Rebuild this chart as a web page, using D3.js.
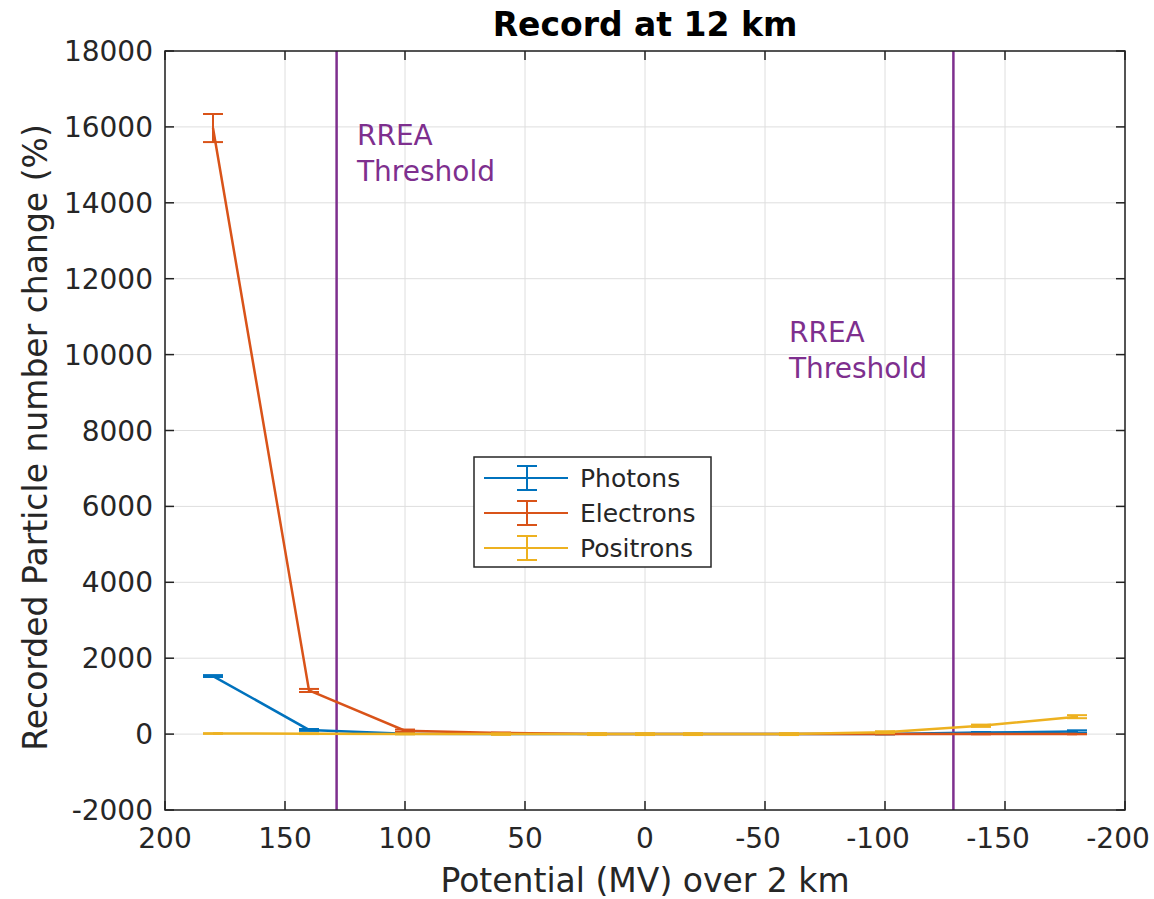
<!DOCTYPE html>
<html>
<head>
<meta charset="utf-8">
<script src="https://cdn.jsdelivr.net/npm/d3@7"></script>
<style>
  body { margin: 0; background: #fff; }
  text { font-family: "DejaVu Sans", sans-serif; }
</style>
</head>
<body>
<div id="chart"></div>
<script>
// potential (MV) at each run
var potentials = [180, 140, 100, 60, 20, 0, -20, -60, -100, -140, -180];

var photons     = [1530, 110, 10, 5, 0, 0, 0, 0, 5, 40, 70];
var photonsErr  = [25, 25, 10, 5, 5, 5, 5, 5, 10, 15, 30];
var electrons   = [15970, 1150, 90, 30, 5, 0, 0, 0, 0, 0, 0];
var electronsErr = [370, 40, 30, 10, 5, 5, 5, 5, 5, 5, 5];
var positrons   = [15, 10, 5, 0, 0, 0, 0, 0, 50, 220, 459];
var positronsErr = [10, 10, 10, 20, 25, 25, 25, 25, 25, 30, 40];

var xTicks = [200, 150, 100, 50, 0, -50, -100, -150, -200];
var yTicks = [-2000, 0, 2000, 4000, 6000, 8000, 10000, 12000, 14000, 16000, 18000];
var thresholds = [128.5, -128.5];
var thresholdText = [[120, 15520], [-60, 10330]];

var seriesNames = ["Photons", "Electrons", "Positrons"];
var seriesColors = ["#0072BD", "#D95319", "#EDB120"];
var seriesVals = [photons, electrons, positrons];
var seriesErrs = [photonsErr, electronsErr, positronsErr];

var W = 1154, H = 899;
var pLeft = 165, pRight = 1125, pTop = 51, pBottom = 810;

var svg = d3.select("#chart").append("svg")
  .attr("width", W).attr("height", H);

svg.append("rect").attr("width", W).attr("height", H).attr("fill", "#fff");

var x = d3.scaleLinear().domain([200, -200]).range([pLeft, pRight]);
var y = d3.scaleLinear().domain([-2000, 18000]).range([pBottom, pTop]);

// grid
var grid = svg.append("g");
grid.selectAll(".gx").data(xTicks).enter().append("line")
  .attr("x1", d => x(d)).attr("x2", d => x(d))
  .attr("y1", pTop).attr("y2", pBottom)
  .attr("stroke", "#dedede").attr("stroke-width", 1);
grid.selectAll(".gy").data(yTicks).enter().append("line")
  .attr("x1", pLeft).attr("x2", pRight)
  .attr("y1", d => y(d)).attr("y2", d => y(d))
  .attr("stroke", "#dedede").attr("stroke-width", 1);

// threshold lines
svg.selectAll(".thr").data(thresholds).enter().append("line")
  .attr("x1", d => x(d)).attr("x2", d => x(d))
  .attr("y1", pTop).attr("y2", pBottom)
  .attr("stroke", "#7E2F8E").attr("stroke-width", 2.5);

thresholdText.forEach(function(p) {
  var t = svg.append("text")
    .attr("x", x(p[0])).attr("y", y(p[1]))
    .attr("fill", "#7E2F8E").attr("font-size", "28px");
  t.append("tspan").attr("x", x(p[0])).attr("dy", 0).text("RREA");
  t.append("tspan").attr("x", x(p[0])).attr("dy", 36).text("Threshold");
});

// series
var line = d3.line().x(d => x(d[0])).y(d => y(d[1]));
var capW = 10;

seriesVals.forEach(function(vals, s) {
  var pts = potentials.map((p, i) => [p, vals[i], seriesErrs[s][i]]);
  var g = svg.append("g").attr("stroke", seriesColors[s]).attr("fill", "none");
  g.append("path").datum(pts).attr("d", line).attr("stroke-width", 2.5);
  var eb = g.selectAll(".eb").data(pts).enter().append("g").attr("stroke-width", 2);
  eb.append("line")
    .attr("x1", d => x(d[0])).attr("x2", d => x(d[0]))
    .attr("y1", d => y(d[1] - d[2])).attr("y2", d => y(d[1] + d[2]));
  eb.append("line")
    .attr("x1", d => x(d[0]) - capW).attr("x2", d => x(d[0]) + capW)
    .attr("y1", d => y(d[1] + d[2])).attr("y2", d => y(d[1] + d[2]));
  eb.append("line")
    .attr("x1", d => x(d[0]) - capW).attr("x2", d => x(d[0]) + capW)
    .attr("y1", d => y(d[1] - d[2])).attr("y2", d => y(d[1] - d[2]));
});

// axes box and ticks
svg.append("rect")
  .attr("x", pLeft).attr("y", pTop)
  .attr("width", pRight - pLeft).attr("height", pBottom - pTop)
  .attr("fill", "none").attr("stroke", "#222").attr("stroke-width", 1.5);

var tl = 9;
xTicks.forEach(function(d) {
  svg.append("line").attr("x1", x(d)).attr("x2", x(d))
    .attr("y1", pBottom).attr("y2", pBottom - tl).attr("stroke", "#222").attr("stroke-width", 1.5);
  svg.append("line").attr("x1", x(d)).attr("x2", x(d))
    .attr("y1", pTop).attr("y2", pTop + tl).attr("stroke", "#222").attr("stroke-width", 1.5);
});
yTicks.forEach(function(d) {
  svg.append("line").attr("x1", pLeft).attr("x2", pLeft + tl)
    .attr("y1", y(d)).attr("y2", y(d)).attr("stroke", "#222").attr("stroke-width", 1.5);
  svg.append("line").attr("x1", pRight).attr("x2", pRight - tl)
    .attr("y1", y(d)).attr("y2", y(d)).attr("stroke", "#222").attr("stroke-width", 1.5);
});

// negative labels sit a little left of their tick, as in the original
svg.selectAll(".xl").data(xTicks).enter().append("text")
  .attr("x", d => x(d)).attr("y", pBottom + 38)
  .attr("dx", d => d < 0 ? -7 : 0)
  .attr("text-anchor", "middle").attr("font-size", "28px").attr("fill", "#262626")
  .text(d => d);

svg.selectAll(".yl").data(yTicks).enter().append("text")
  .attr("x", pLeft - 12).attr("y", d => y(d) + 10)
  .attr("text-anchor", "end").attr("font-size", "28px").attr("fill", "#262626")
  .text(d => d);

// labels
svg.append("text")
  .attr("x", (pLeft + pRight) / 2).attr("y", 892)
  .attr("text-anchor", "middle").attr("font-size", "33px").attr("fill", "#262626")
  .text("Potential (MV) over 2 km");

svg.append("text")
  .attr("transform", "translate(47," + ((pTop + pBottom) / 2 + 7) + ") rotate(-90)")
  .attr("text-anchor", "middle").attr("font-size", "33px").attr("fill", "#262626")
  .text("Recorded Particle number change (%)");

svg.append("text")
  .attr("x", (pLeft + pRight) / 2).attr("y", 36)
  .attr("text-anchor", "middle").attr("font-size", "33px").attr("font-weight", "bold")
  .attr("fill", "#000")
  .text("Record at 12 km");

// legend
var lg = svg.append("g").attr("transform", "translate(474,457)");
lg.append("rect").attr("width", 237).attr("height", 110)
  .attr("fill", "#fff").attr("stroke", "#262626").attr("stroke-width", 1.5);
seriesNames.forEach(function(n, i) {
  var yy = 21 + i * 35;
  var g = lg.append("g").attr("stroke", seriesColors[i]).attr("stroke-width", 2);
  g.append("line").attr("x1", 10).attr("x2", 94).attr("y1", yy).attr("y2", yy);
  g.append("line").attr("x1", 53).attr("x2", 53).attr("y1", yy - 12).attr("y2", yy + 12);
  g.append("line").attr("x1", 43).attr("x2", 63).attr("y1", yy - 12).attr("y2", yy - 12);
  g.append("line").attr("x1", 43).attr("x2", 63).attr("y1", yy + 12).attr("y2", yy + 12);
  lg.append("text").attr("x", 106).attr("y", yy + 9)
    .attr("font-size", "25px").attr("fill", "#262626").text(n);
});
</script>
</body>
</html>
